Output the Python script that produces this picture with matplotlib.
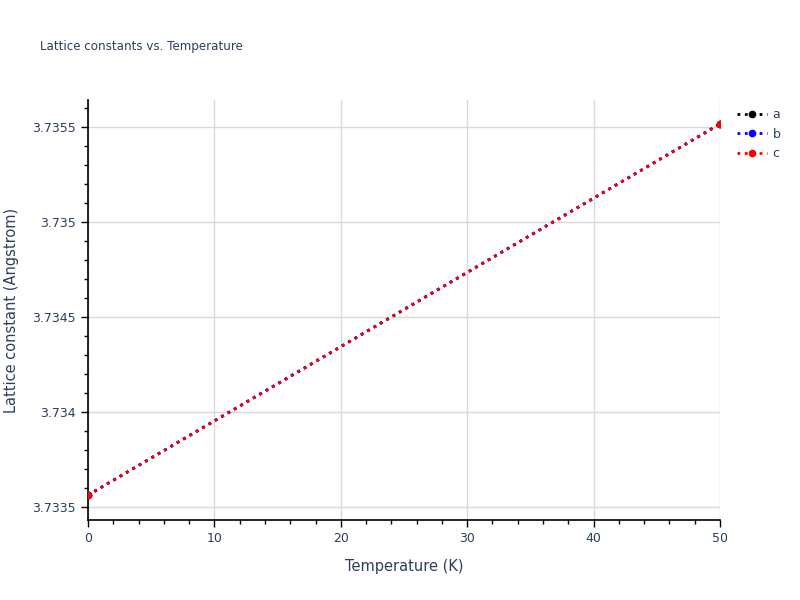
import matplotlib
matplotlib.use('Agg')
import matplotlib.pyplot as plt
from matplotlib.ticker import MultipleLocator
from matplotlib.lines import Line2D

# data
temperature = [0, 50]
a_vals = [3.733563, 3.735516]
b_vals = [3.733563, 3.735516]
c_vals = [3.733563, 3.735516]

txt = '#2a3f5f'
fig = plt.figure(figsize=(8, 6), dpi=100)
ax = fig.add_axes([0.11, 0.1333, 0.79, 0.70])

ax.plot(temperature, a_vals, color='black', linestyle=':', linewidth=2, marker='o', markersize=4.5, label='a', zorder=3)
ax.plot(temperature, b_vals, color='blue', linestyle=':', linewidth=2, marker='o', markersize=4.5, label='b', zorder=4)
ax.plot(temperature, c_vals, color='red', linestyle=':', linewidth=2, marker='o', markersize=4.5, label='c', zorder=5)

ax.set_xlim(0, 50)
ax.set_ylim(3.733432, 3.735642)
ax.xaxis.set_major_locator(MultipleLocator(10))
ax.xaxis.set_minor_locator(MultipleLocator(2))
ax.yaxis.set_major_locator(MultipleLocator(0.0005))
ax.yaxis.set_minor_locator(MultipleLocator(0.0001))
ax.yaxis.set_major_formatter(matplotlib.ticker.FuncFormatter(lambda v, p: ('%.4f' % v).rstrip('0').rstrip('.')))

ax.grid(True, which='major', color='#d9d9d9', linewidth=1, zorder=0)
ax.set_axisbelow(True)
for s in ['top', 'right']:
    ax.spines[s].set_visible(False)
for s in ['left', 'bottom']:
    ax.spines[s].set_color('black')
    ax.spines[s].set_linewidth(1.2)

ax.tick_params(which='major', direction='out', length=5, width=1, colors='black', labelcolor=txt, labelsize=9)
ax.tick_params(which='minor', direction='out', length=3, width=1, colors='black')

ax.set_xlabel('Temperature (K)', color=txt, fontsize=10.5, labelpad=10)
ax.set_ylabel('Lattice constant (Angstrom)', color=txt, fontsize=10.5, labelpad=10)
fig.text(0.05, 0.923, 'Lattice constants vs. Temperature', color=txt, fontsize=8.6, va='center')

handles = [Line2D([0], [0], color=c, linestyle=':', linewidth=2, marker='o', markersize=4.5) for c in ['black', 'blue', 'red']]
leg = fig.legend(handles, ['a', 'b', 'c'], loc='upper left', bbox_to_anchor=(0.907, 0.838), frameon=False,
                 fontsize=9, handlelength=2.4, labelspacing=0.5, handletextpad=0.45)
for t in leg.get_texts():
    t.set_color(txt)

plt.savefig('out.png', dpi=100)
